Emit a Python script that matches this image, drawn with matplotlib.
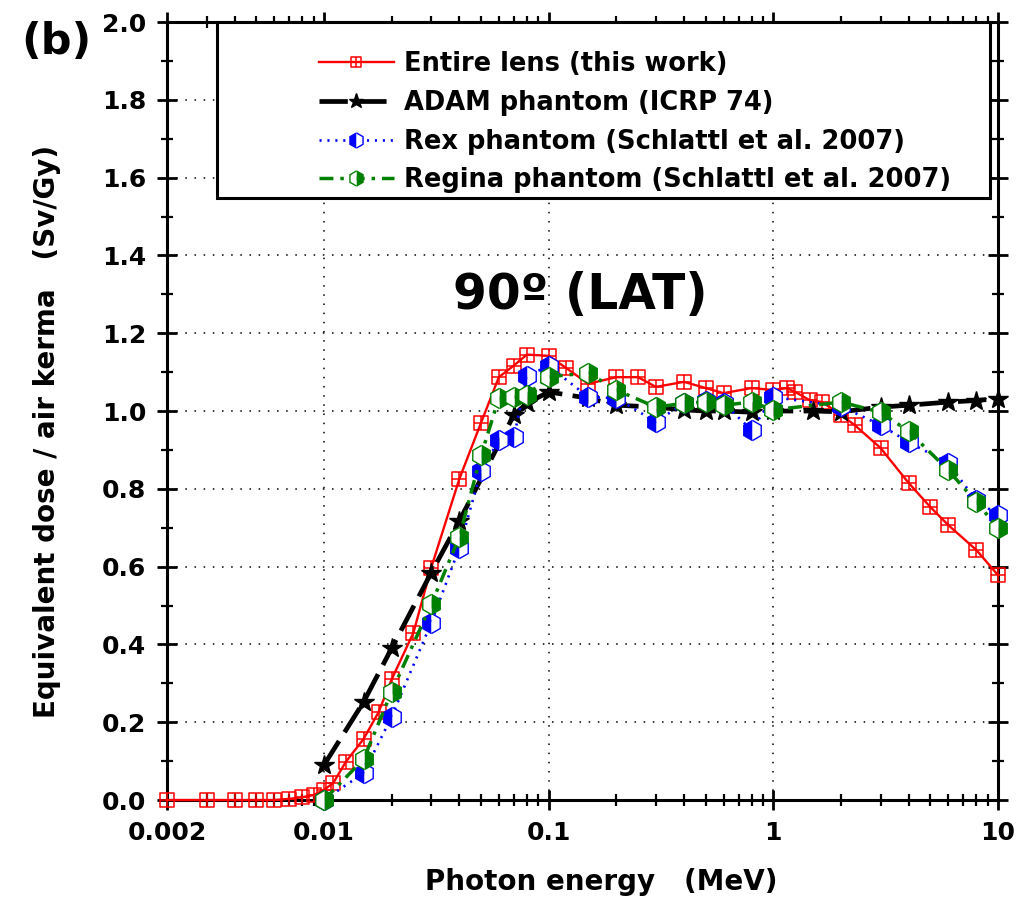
import numpy as np
import matplotlib
matplotlib.use("Agg")
import matplotlib.pyplot as plt
from matplotlib.path import Path
from matplotlib.lines import Line2D
from matplotlib.patches import Rectangle
from matplotlib.ticker import LogLocator, FixedLocator, MultipleLocator, NullFormatter

plt.rcParams['font.family'] = ['DejaVu Sans']
plt.rcParams['font.weight'] = 'bold'

# Entire lens (this work)
e_lens = [0.002, 0.003, 0.004, 0.005, 0.006, 0.007, 0.008, 0.009, 0.01, 0.011,
          0.0125, 0.015, 0.0175, 0.02, 0.025, 0.03, 0.04, 0.05, 0.06, 0.07,
          0.08, 0.1, 0.12, 0.15, 0.2, 0.25, 0.3, 0.4, 0.5, 0.6, 0.8, 1.0,
          1.15, 1.25, 1.45, 1.65, 2.0, 2.3, 3.0, 4.0, 5.0, 6.0, 8.0, 10.0]
y_lens = [0.0, 0.0, 0.0, 0.0, 0.0, 0.003, 0.007, 0.013, 0.026, 0.044,
          0.098, 0.157, 0.226, 0.31, 0.43, 0.597, 0.825, 0.97, 1.087, 1.117,
          1.145, 1.142, 1.11, 1.07, 1.087, 1.087, 1.062, 1.075, 1.059, 1.046, 1.059, 1.054,
          1.059, 1.049, 1.028, 1.023, 0.99, 0.964, 0.905, 0.815, 0.753, 0.707, 0.643, 0.578]

# ADAM phantom (ICRP 74)
e_adam = [0.01, 0.015, 0.02, 0.03, 0.04, 0.07, 0.08, 0.1, 0.15, 0.2, 0.3, 0.4,
          0.5, 0.6, 0.8, 1.0, 1.5, 2.0, 3.0, 4.0, 6.0, 8.0, 10.0]
y_adam = [0.09, 0.252, 0.39, 0.584, 0.717, 0.99, 1.02, 1.049, 1.033, 1.015, 1.01, 1.003,
          1.0, 1.0, 0.997, 1.0, 1.0, 0.998, 1.01, 1.015, 1.023, 1.027, 1.032]

# Rex phantom (Schlattl et al. 2007)
e_rex = [0.01, 0.015, 0.02, 0.03, 0.04, 0.05, 0.06, 0.07, 0.08, 0.1, 0.15, 0.2,
         0.3, 0.4, 0.5, 0.6, 0.8, 1.0, 2.0, 3.0, 4.0, 6.0, 8.0, 10.0]
y_rex = [0.0, 0.069, 0.214, 0.455, 0.648, 0.845, 0.925, 0.933, 1.09, 1.116, 1.036, 1.033,
         0.972, 1.02, 1.025, 1.02, 0.951, 1.036, 1.012, 0.964, 0.92, 0.866, 0.77, 0.733]

# Regina phantom (Schlattl et al. 2007)
e_reg = [0.01, 0.015, 0.02, 0.03, 0.04, 0.05, 0.06, 0.07, 0.08, 0.1, 0.15, 0.2,
         0.3, 0.4, 0.5, 0.6, 0.8, 1.0, 2.0, 3.0, 4.0, 6.0, 8.0, 10.0]
y_reg = [0.0, 0.105, 0.278, 0.503, 0.676, 0.886, 1.033, 1.036, 1.041, 1.088, 1.098, 1.054,
         1.01, 1.02, 1.023, 1.015, 1.023, 1.003, 1.023, 0.997, 0.948, 0.848, 0.766, 0.70]

labels = ["Entire lens (this work)", "ADAM phantom (ICRP 74)",
          "Rex phantom (Schlattl et al. 2007)", "Regina phantom (Schlattl et al. 2007)"]
xticks = [0.002, 0.01, 0.1, 1, 10]
xticklabels = ["0.002", "0.01", "0.1", "1", "10"]

# square with a cross inside
sq_cross = Path([(-1, -1), (1, -1), (1, 1), (-1, 1), (-1, -1), (0, -1), (0, 1), (-1, 0), (1, 0)],
                [Path.MOVETO, Path.LINETO, Path.LINETO, Path.LINETO, Path.CLOSEPOLY,
                 Path.MOVETO, Path.LINETO, Path.MOVETO, Path.LINETO])

RED, BLUE, GREEN = "#ff0000", "#0000ff", "#008000"

styles = [
    dict(color=RED, lw=1.7, ls="-", marker=sq_cross, ms=10.5, mfc="none", mec=RED, mew=1.1),
    dict(color="black", lw=3.4, ls=(0, (6, 2.2)), marker="*", ms=15, mfc="black", mec="black"),
    dict(color=BLUE, lw=1.9, ls=(0, (0.8, 2.2)), marker="h", ms=14.5, fillstyle="left",
         mfc=BLUE, markerfacecoloralt="white", mec=BLUE, mew=1.0),
    dict(color=GREEN, lw=2.5, ls=(0, (4, 2, 1, 2)), marker="h", ms=14.5, fillstyle="right",
         mfc=GREEN, markerfacecoloralt="white", mec=GREEN, mew=1.0),
]

fig = plt.figure(figsize=(10.18, 8.99), dpi=100)
ax = fig.add_axes([0.1640, 0.1101, 0.8164, 0.8654])

series = [(e_lens, y_lens), (e_adam, y_adam), (e_rex, y_rex), (e_reg, y_reg)]
for (e, y), st in zip(series, styles):
    ax.plot(e, y, clip_on=False, zorder=3, **st)

ax.set_xscale("log")
ax.set_xlim(0.002, 10)
ax.set_ylim(0, 2.0)

ax.xaxis.set_major_locator(FixedLocator(xticks))
ax.set_xticklabels(xticklabels)
ax.xaxis.set_minor_locator(LogLocator(base=10, subs=np.arange(2, 10)))
ax.xaxis.set_minor_formatter(NullFormatter())
ax.yaxis.set_minor_locator(MultipleLocator(0.1))
ax.set_yticks(np.arange(0, 2.01, 0.2))
ax.set_yticklabels([f"{v:.1f}" for v in np.arange(0, 2.01, 0.2)])

for sp in ax.spines.values():
    sp.set_linewidth(2.2)

ax.tick_params(which="major", direction="inout", length=14, width=2, labelsize=18, pad=8)
ax.tick_params(which="minor", direction="inout", length=9, width=1.6)
ax.tick_params(which="both", top=True, right=True)

# dotted grid at the decades / 0.2 steps
for xv in [0.01, 0.1, 1]:
    ax.axvline(xv, color="black", lw=1.1, ls=(0, (1, 5)), zorder=1)
for yv in np.arange(0.2, 1.81, 0.2):
    ax.axhline(yv, color="black", lw=1.1, ls=(0, (1, 5)), zorder=1)

ax.set_xlabel("Photon energy   (MeV)", fontsize=20, fontweight="bold")
ax.set_ylabel("Equivalent dose / air kerma   (Sv/Gy)", fontsize=20, fontweight="bold")
ax.xaxis.set_label_coords(0.523, -0.087)
ax.yaxis.set_label_coords(-0.128, 0.474)

ax.text(0.497, 0.649, "90º (LAT)", transform=ax.transAxes, fontsize=35,
        fontweight="bold", ha="center", va="center")
fig.text(0.055, 0.953, "(b)", fontsize=31, fontweight="bold", ha="center", va="center")

# legend box
ax.add_patch(Rectangle((0.060, 0.774), 0.930, 0.226, transform=ax.transAxes,
                       facecolor="white", edgecolor="black", lw=2.2, zorder=5, clip_on=False))
handles = [Line2D([], [], **dict(st, ms=st["ms"] * 0.75)) for st in styles]
leg = ax.legend(handles, labels, loc="upper left", bbox_to_anchor=(0.183, 0.963),
                frameon=False, handlelength=2.9, handletextpad=0.4,
                labelspacing=0.5, borderpad=0, borderaxespad=0,
                prop={"weight": "bold", "size": 18.5})
leg.set_zorder(6)

fig.savefig("out.png", dpi=100)
